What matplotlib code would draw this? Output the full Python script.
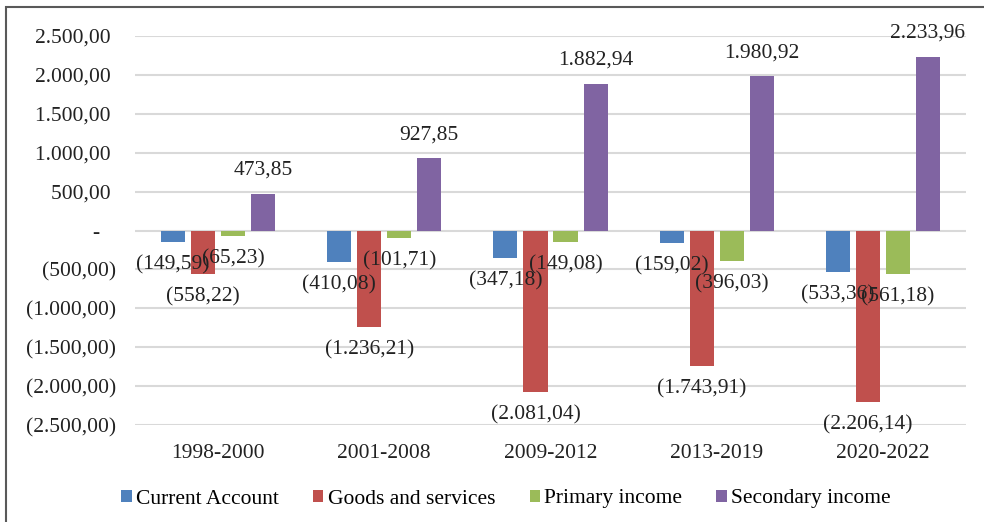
import numpy as np
import matplotlib.pyplot as plt
from matplotlib.patches import Rectangle

plt.rcParams['font.family'] = ['Liberation Serif', 'DejaVu Serif']

# Данные
periods = ['1998-2000', '2001-2008', '2009-2012', '2013-2019', '2020-2022']
current_account = [-149.59, -410.08, -347.18, -159.02, -533.36]
goods_services = [-558.22, -1236.21, -2081.04, -1743.91, -2206.14]
primary_income = [-65.23, -101.71, -149.08, -396.03, -561.18]
secondary_income = [473.85, 927.85, 1882.94, 1980.92, 2233.96]

series = [
    ('Current Account', current_account, '#4F81BD'),
    ('Goods and services', goods_services, '#C0504D'),
    ('Primary income', primary_income, '#9BBB59'),
    ('Secondary income', secondary_income, '#8064A2'),
]


def fmt(v):
    s = f"{abs(v):,.2f}".replace(',', ' ').replace('.', ',').replace(' ', '.')
    return f"({s})" if v < 0 else s


def axis_fmt(v, pos):
    if abs(v) < 1e-9:
        return '-   '
    return fmt(v) if v < 0 else fmt(v) + ' '


fig = plt.figure(figsize=(9.84, 5.22), dpi=100)
ax = fig.add_axes([135 / 984, 1 - 425 / 522, (966 - 135) / 984, (425 - 36) / 522])

x = np.arange(len(periods))
pitch = 0.1807
width = 0.1446
fs = 15.5

for i, (name, vals, color) in enumerate(series):
    pos = x + (i - 1.5) * pitch
    ax.bar(pos, vals, width, color=color, label=name, zorder=2)
    for px, v in zip(pos, vals):
        off = 17 if v >= 0 else -16.5
        ax.annotate(fmt(v), (px, v), xytext=(0, off), textcoords='offset points',
                    ha='center', va='center', fontsize=fs, color='#222222', zorder=4)

ax.set_ylim(-2500, 2500)
ax.set_xlim(-0.5, len(periods) - 0.5)
ax.set_yticks(np.arange(-2500, 2501, 500))
ax.yaxis.set_major_formatter(plt.FuncFormatter(axis_fmt))
ax.set_xticks(x)
ax.set_xticklabels(periods)
ax.tick_params(axis='both', length=0, labelsize=fs, colors='#222222')
ax.tick_params(axis='y', pad=13.5)
ax.tick_params(axis='x', pad=14)
ax.grid(axis='y', color='#d9d9d9', linewidth=1.5, zorder=0)
ax.set_axisbelow(True)
for s in ax.spines.values():
    s.set_visible(False)

fig.legend(loc='center', bbox_to_anchor=(506 / 984, 1 - 499 / 522), ncol=4,
           frameon=False, fontsize=fs, handlelength=0.47, handleheight=0.47,
           handletextpad=0.2, columnspacing=1.6)

# рамка вокруг диаграммы
fig.patches.append(Rectangle((6 / 984, -0.1), 1.1, 1 - 7 / 522 + 0.1,
                             transform=fig.transFigure, fill=False,
                             edgecolor='#595959', linewidth=1.5))

fig.savefig('out.png', dpi=100)
